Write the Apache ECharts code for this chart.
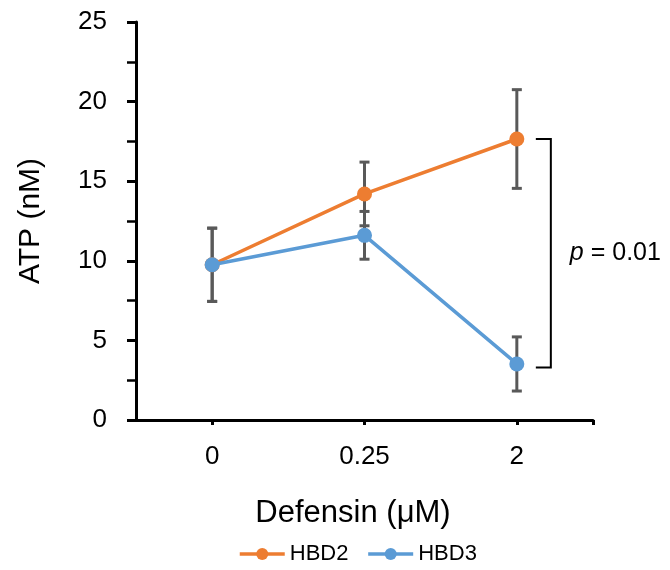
<!DOCTYPE html>
<html>
<head>
<meta charset="utf-8">
<script src="https://cdn.jsdelivr.net/npm/echarts@6/dist/echarts.min.js"></script>
<style>
  html, body { margin: 0; padding: 0; background: #fff; }
  #chart { width: 670px; height: 570px; }
</style>
</head>
<body>
<div id="chart"></div>
<script>
// categories on x (defensin concentration)
var categories = ['0', '0.25', '2'];
var hbd2 = [9.75, 14.2, 17.65];
var hbd2Err = [2.3, 2.0, 3.1];
var hbd3 = [9.75, 11.6, 3.52];
var hbd3Err = [2.3, 1.5, 1.7];
// bracket between the two series at x = 2
var bracket = [[2, 17.65, 3.3]];
var pLabel = '0.01';

var font = 'Liberation Sans, Arial, sans-serif';

function errData(vals, errs) {
	return vals.map(function (v, i) { return [i, v - errs[i], v + errs[i]]; });
}

function renderErr(params, api) {
	var lo = api.coord([api.value(0), api.value(1)]);
	var hi = api.coord([api.value(0), api.value(2)]);
	var cap = 5;
	var st = { stroke: '#595959', lineWidth: 3 };
	return {
		type: 'group',
		children: [
			{ type: 'line', shape: { x1: lo[0], y1: lo[1], x2: hi[0], y2: hi[1] }, style: st },
			{ type: 'line', shape: { x1: lo[0] - cap, y1: lo[1], x2: lo[0] + cap, y2: lo[1] }, style: st },
			{ type: 'line', shape: { x1: hi[0] - cap, y1: hi[1], x2: hi[0] + cap, y2: hi[1] }, style: st }
		]
	};
}

function renderBracket(params, api) {
	var top = api.coord([api.value(0), api.value(1)]);
	var bot = api.coord([api.value(0), api.value(2)]);
	var vx = top[0] + 34, ax = top[0] + 19;
	return {
		type: 'group',
		children: [
			{
				type: 'polyline',
				shape: { points: [[ax, top[1]], [vx, top[1]], [vx, bot[1]], [ax, bot[1]]] },
				style: { stroke: '#000', lineWidth: 2, fill: null }
			},
			{
				type: 'text',
				x: vx + 19,
				y: (top[1] + bot[1]) / 2,
				style: {
					text: '{i|p} = ' + pLabel,
					fontFamily: font,
					fontSize: 25,
					fill: '#000',
					verticalAlign: 'middle',
					align: 'left',
					rich: { i: { fontStyle: 'italic', fontFamily: font, fontSize: 25 } }
				}
			}
		]
	};
}

var chart = echarts.init(document.getElementById('chart'));
chart.setOption({
	animation: false,
	textStyle: { fontFamily: font, color: '#000' },
	grid: { left: 136, right: 77, top: 22, bottom: 150 },
	legend: {
		data: ['HBD2', 'HBD3'],
		left: 233,
		top: 538,
		itemWidth: 45,
		itemHeight: 15,
		itemGap: 18,
		lineStyle: { width: 3.5 },
		textStyle: { fontSize: 22, color: '#000', fontFamily: font }
	},
	xAxis: {
		type: 'value',
		min: -0.5,
		max: 2.5,
		name: 'Defensin (\u03bcM)',
		nameLocation: 'middle',
		nameGap: 78,
		nameTextStyle: { fontSize: 31, color: '#000', fontFamily: font, padding: [0, 23, 0, 0] },
		axisLine: { show: true, onZero: false, lineStyle: { color: '#000', width: 3 } },
		axisTick: { show: true, customValues: [0, 1, 2, 2.5], length: 5, lineStyle: { color: '#000', width: 3 } },
		axisLabel: {
			customValues: [0, 1, 2],
			formatter: function (v) { return categories[Math.round(v)]; },
			fontSize: 26,
			color: '#000',
			margin: 24
		},
		splitLine: { show: false }
	},
	yAxis: {
		type: 'value',
		min: 0,
		max: 25,
		interval: 5,
		name: 'ATP (nM)',
		nameLocation: 'middle',
		nameGap: 90,
		nameTextStyle: { fontSize: 30, color: '#000', fontFamily: font },
		axisLine: { show: true, onZero: false, lineStyle: { color: '#000', width: 3 } },
		axisTick: { show: true, length: 9, lineStyle: { color: '#000', width: 3 } },
		minorTick: { show: true, splitNumber: 2, length: 9, lineStyle: { color: '#000', width: 2.5 } },
		axisLabel: { fontSize: 26, color: '#000', margin: 29 },
		splitLine: { show: false }
	},
	series: [
		{
			type: 'custom',
			renderItem: renderErr,
			data: errData(hbd2, hbd2Err),
			z: 1,
			silent: true
		},
		{
			type: 'custom',
			renderItem: renderErr,
			data: errData(hbd3, hbd3Err),
			z: 1,
			silent: true
		},
		{
			name: 'HBD2',
			type: 'line',
			data: hbd2.map(function (v, i) { return [i, v]; }),
			symbol: 'circle',
			symbolSize: 15,
			lineStyle: { color: '#ED7D31', width: 3.5 },
			itemStyle: { color: '#ED7D31' },
			z: 3
		},
		{
			name: 'HBD3',
			type: 'line',
			data: hbd3.map(function (v, i) { return [i, v]; }),
			symbol: 'circle',
			symbolSize: 15,
			lineStyle: { color: '#5B9BD5', width: 3.5 },
			itemStyle: { color: '#5B9BD5' },
			z: 4
		},
		{
			type: 'custom',
			renderItem: renderBracket,
			data: bracket,
			clip: false,
			z: 2,
			silent: true
		}
	]
});
</script>
</body>
</html>
